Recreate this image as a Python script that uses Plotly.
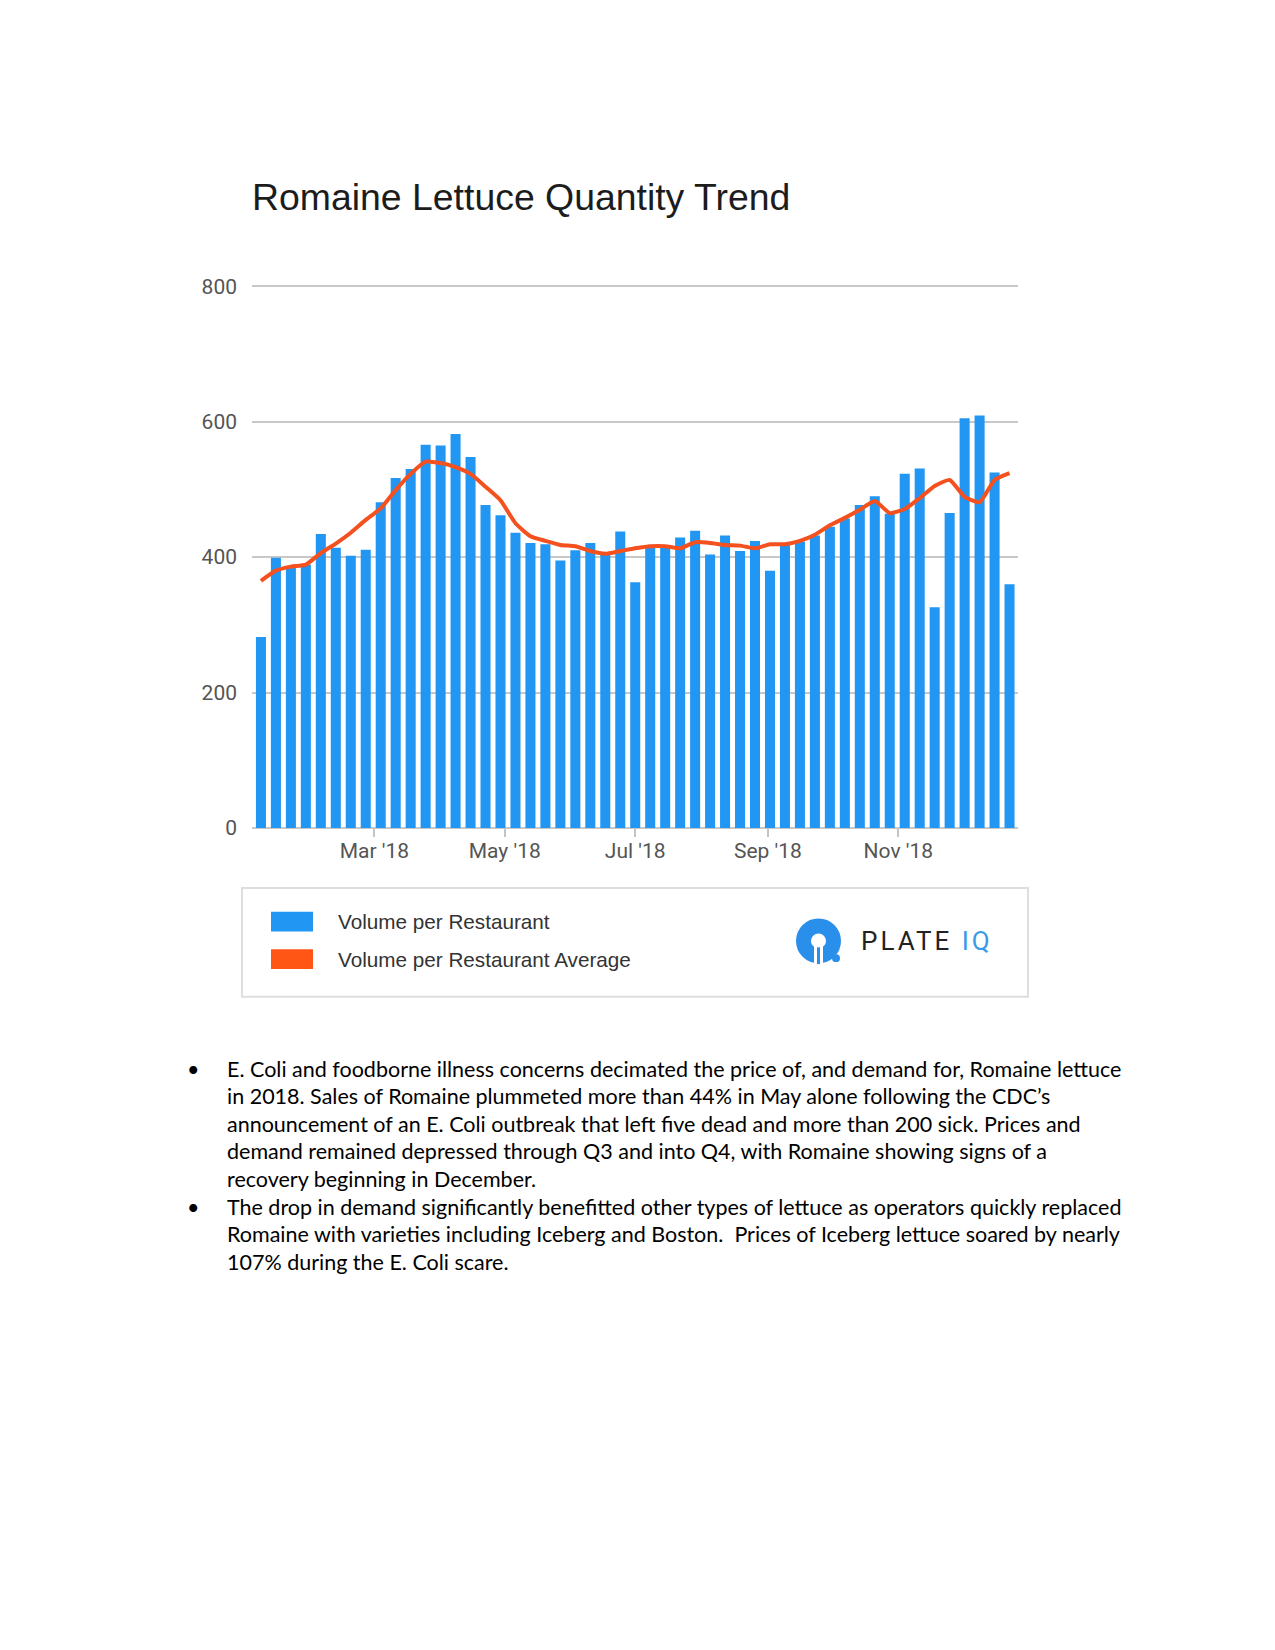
import plotly.graph_objects as go
import pandas as pd

# ---------------- data ----------------
weeks = pd.date_range("2018-01-07", periods=51, freq="7D")
volume = [282, 399, 386, 389, 434, 414, 402, 411, 481, 517,
          530, 566, 565, 582, 548, 477, 462, 436, 421, 419,
          395, 410, 421, 406, 438, 363, 415, 414, 429, 439,
          404, 432, 409, 424, 380, 418, 423, 432, 445, 457,
          477, 490, 464, 523, 531, 326, 465, 605, 609, 525, 360]
volume_avg = [365, 380, 386, 389, 406, 420, 436, 455, 472, 499,
              523, 541, 539, 533, 523, 504, 484, 450, 431, 424,
              418, 416, 409, 405, 409, 413, 416, 416, 413, 422,
              421, 418, 417, 413, 419, 419, 424, 433, 447, 458,
              470, 483, 465, 471, 487, 505, 514, 489, 481, 514, 524]
tick_dates = ["2018-03-01", "2018-05-01", "2018-07-01", "2018-09-01", "2018-11-01"]
tick_text = ["Mar '18", "May '18", "Jul '18", "Sep '18", "Nov '18"]
y_ticks = [0, 200, 400, 600, 800]

title = "Romaine Lettuce Quantity Trend"
series_names = ["Volume per Restaurant", "Volume per Restaurant Average"]
bullet_lines = [
    ["E. Coli and foodborne illness concerns decimated the price of, and demand for, Romaine lettuce",
     "in 2018. Sales of Romaine plummeted more than 44% in May alone following the CDC\u2019s",
     "announcement of an E. Coli outbreak that left five dead and more than 200 sick. Prices and",
     "demand remained depressed through Q3 and into Q4, with Romaine showing signs of a",
     "recovery beginning in December."],
    ["The drop in demand significantly benefitted other types of lettuce as operators quickly replaced",
     "Romaine with varieties including Iceberg and Boston.  Prices of Iceberg lettuce soared by nearly",
     "107% during the E. Coli scare."],
]

BLUE = "#2196F3"
ORANGE = "#F4511E"
LOGO_BLUE = "#2A8FEA"

# ---------------- page geometry helpers ----------------
OFF = 8
W, H = 1275 - 2 * OFF, 1650 - 2 * OFF


def fx(X):
    return (X - OFF) / W


def fy(Y):
    return 1 - (Y - OFF) / H


fig = go.Figure()
fig.add_trace(go.Bar(x=weeks, y=volume, marker=dict(color=BLUE, line=dict(width=0)),
                     name=series_names[0], hoverinfo="x+y"))
fig.add_trace(go.Scatter(x=weeks, y=volume_avg, mode="lines", name=series_names[1],
                         line=dict(color=ORANGE, width=4, shape="spline", smoothing=0.5)))

fig.update_layout(
    width=W, height=H,
    margin=dict(l=0, r=0, t=0, b=0),
    paper_bgcolor="white", plot_bgcolor="white",
    showlegend=False,
    bargap=0.33,
    xaxis=dict(domain=[fx(252), fx(1018)], type="date",
               range=["2018-01-02 19:40", "2018-12-26 23:00"],
               tickvals=tick_dates, ticktext=tick_text,
               ticks="outside", ticklen=8, tickwidth=1.5, tickcolor="#c4c4c4",
               ticklabelstandoff=-4,
               tickfont=dict(family="Roboto", size=21, color="#555555"),
               showgrid=False, showline=False, zeroline=False),
    yaxis=dict(domain=[fy(829), fy(277.9)], range=[0, 803], tickvals=y_ticks,
               showgrid=True, gridcolor="#c8c8c8", gridwidth=1.5,
               zeroline=True, zerolinecolor="#c8c8c8", zerolinewidth=1.5,
               showline=False, ticks="", ticklabelstandoff=14,
               tickfont=dict(family="Roboto", size=21, color="#555555")),
)

shapes = []
annotations = []

# title
annotations.append(dict(text=title, x=fx(250), y=fy(189), xref="paper", yref="paper",
                        xanchor="left", yanchor="middle", showarrow=False,
                        font=dict(family="Liberation Sans", size=37.4, color="#1c1c1c")))

# legend box
shapes.append(dict(type="rect", xref="paper", yref="paper", x0=fx(242), x1=fx(1028),
                   y0=fy(890), y1=fy(1000), line=dict(color="#dedede", width=2),
                   fillcolor="rgba(0,0,0,0)"))
for name, col, yc in [(series_names[0], BLUE, 924), (series_names[1], "#FF5515", 962)]:
    shapes.append(dict(type="rect", xref="paper", yref="paper", x0=fx(271), x1=fx(313),
                       y0=fy(yc - 10), y1=fy(yc + 10), line=dict(width=0), fillcolor=col))
    annotations.append(dict(text=name, x=fx(336), y=fy(yc), xref="paper", yref="paper",
                            xanchor="left", yanchor="middle", showarrow=False,
                            font=dict(family="Liberation Sans", size=20.7, color="#333333")))

# logo icon
shapes.append(dict(type="circle", xref="paper", yref="paper", x0=fx(803.5), x1=fx(833.5),
                   y0=fy(928.5), y1=fy(958.5), line=dict(color=LOGO_BLUE, width=15),
                   fillcolor="rgba(0,0,0,0)"))
shapes.append(dict(type="rect", xref="paper", yref="paper", x0=fx(814), x1=fx(823),
                   y0=fy(948), y1=fy(968), line=dict(width=0), fillcolor="white"))
shapes.append(dict(type="rect", xref="paper", yref="paper", x0=fx(817), x1=fx(820),
                   y0=fy(950), y1=fy(967), line=dict(width=0), fillcolor=LOGO_BLUE))
shapes.append(dict(type="circle", xref="paper", yref="paper", x0=fx(832), x1=fx(840),
                   y0=fy(957), y1=fy(965), line=dict(width=0), fillcolor=LOGO_BLUE))
annotations.append(dict(text="<span style='letter-spacing:3px'>PLATE </span>"
                             "<span style='letter-spacing:3px;color:#3A9AE8'>IQ</span>",
                        x=fx(859), y=fy(944), xref="paper", yref="paper",
                        xanchor="left", yanchor="middle", showarrow=False,
                        font=dict(family="Roboto", size=26, color="#222222")))

# bullet text
y_line = 1073
for para in bullet_lines:
    annotations.append(dict(text="\u2022", x=fx(193), y=fy(y_line), xref="paper", yref="paper",
                            xanchor="center", yanchor="middle", showarrow=False,
                            font=dict(family="Lato", size=21.5, color="black")))
    for line in para:
        annotations.append(dict(text=line, x=fx(225), y=fy(y_line), xref="paper", yref="paper",
                                xanchor="left", yanchor="middle", showarrow=False,
                                font=dict(family="Lato", size=21.5, color="black")))
        y_line += 27.95

fig.update_layout(shapes=shapes, annotations=annotations)
fig.write_html("out.html")
